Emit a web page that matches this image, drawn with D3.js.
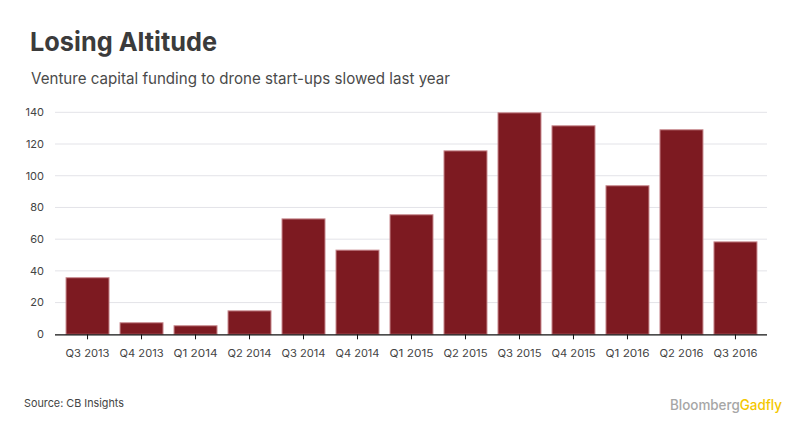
<!DOCTYPE html>
<html><head><meta charset="utf-8">
<script src="https://cdn.jsdelivr.net/npm/d3@7"></script>
<style>
html,body{margin:0;padding:0;background:#fff;}
svg{display:block;}
</style></head>
<body>
<script>
const categories = ["Q3 2013","Q4 2013","Q1 2014","Q2 2014","Q3 2014","Q4 2014","Q1 2015","Q2 2015","Q3 2015","Q4 2015","Q1 2016","Q2 2016","Q3 2016"];
const funding = [36, 7.6, 5.7, 15.1, 73.1, 53.4, 75.7, 116, 140, 131.8, 94, 129.3, 58.6];
const yTicks = [0,20,40,60,80,100,120,140];

const W = 812, H = 443;
const svg = d3.select("body").append("svg").attr("width", W).attr("height", H);
const font = "Inter, 'DejaVu Sans', sans-serif";

svg.append("text").attr("x", 30).attr("y", 51).text("Losing Altitude")
  .attr("font-family", font).attr("font-weight", 700).attr("font-size", 26)
  .attr("fill", "#3b3b3b").attr("textLength", 187).attr("lengthAdjust","spacingAndGlyphs");
svg.append("text").attr("x", 31).attr("y", 84).text("Venture capital funding to drone start-ups slowed last year")
  .attr("font-family", font).attr("font-size", 15.5)
  .attr("fill", "#4a4a4a").attr("textLength", 419).attr("lengthAdjust","spacingAndGlyphs");

const x = d3.scaleBand().domain(categories).range([55, 768]).paddingInner(0.185).paddingOuter(0.195);
const y = d3.scaleLinear().domain([0, 140]).range([334.3, 112.3]);

// gridlines
svg.append("g").selectAll("line").data(yTicks.filter(d => d > 0)).join("line")
  .attr("x1", 55).attr("x2", 767).attr("y1", d => y(d)).attr("y2", d => y(d))
  .attr("stroke", "#e3e3e8").attr("stroke-width", 1);

// y labels
svg.append("g").selectAll("text").data(yTicks).join("text")
  .attr("x", 44).attr("y", d => y(d)).attr("dy", "0.35em").attr("text-anchor", "end")
  .attr("font-family", font).attr("font-size", 11).attr("fill", "#444")
  .text(d => d);

// bars
svg.append("g").selectAll("rect").data(funding).join("rect")
  .attr("x", (d, i) => x(categories[i]) + 0.5)
  .attr("y", d => y(d) + 0.5)
  .attr("width", x.bandwidth() - 1)
  .attr("height", d => y(0) - y(d) - 0.5)
  .attr("fill", "#7d1a21").attr("stroke", "#c98b90").attr("stroke-width", 1);

// x axis
const xAxis = svg.append("g").attr("transform", `translate(0,${y(0)})`)
  .call(d3.axisBottom(x).tickSize(5).tickSizeOuter(0).tickPadding(10));
xAxis.select(".domain").attr("d", "M55,0.5H767").attr("stroke", "#111").attr("stroke-width", 1.2);
xAxis.selectAll(".tick line").attr("stroke", "#111");
xAxis.selectAll(".tick text").attr("font-family", font).attr("font-size", 10.5).attr("fill", "#444")
  .attr("textLength", 44).attr("lengthAdjust", "spacingAndGlyphs");

// source
svg.append("text").attr("x", 24).attr("y", 407).text("Source: CB Insights")
  .attr("font-family", font).attr("font-size", 11).attr("fill", "#444")
  .attr("textLength", 100).attr("lengthAdjust", "spacingAndGlyphs");

// logo
const logo = svg.append("text").attr("x", 670).attr("y", 410)
  .attr("font-family", font).attr("font-size", 14).attr("font-weight", 500)
  .attr("textLength", 112).attr("lengthAdjust", "spacingAndGlyphs");
logo.append("tspan").text("Bloomberg").attr("fill", "#a6a6a6");
logo.append("tspan").text("Gadfly").attr("fill", "#f4c700");
</script>
</body></html>
